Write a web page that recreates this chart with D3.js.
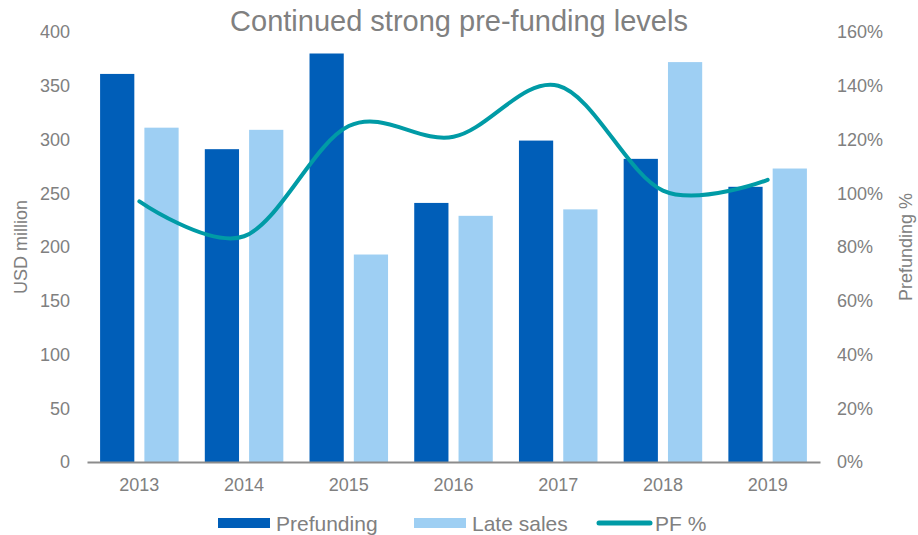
<!DOCTYPE html>
<html>
<head>
<meta charset="utf-8">
<script src="https://cdn.jsdelivr.net/npm/d3@7/dist/d3.min.js"></script>
<style>
  html, body { margin: 0; padding: 0; background: #fff; }
  svg { display: block; font-family: "Liberation Sans", Arial, sans-serif; }
</style>
</head>
<body>
<svg id="chart" width="918" height="535"></svg>
<script>
// Yearly volumes (USD million) and pre-funding ratio
const years = ["2013", "2014", "2015", "2016", "2017", "2018", "2019"];
const prefunding = [361, 291, 380, 241, 299, 282, 256];
const lateSales = [311, 309, 193, 229, 235, 372, 273];
const pfPercent = [97, 84, 125, 121, 140, 101, 105];
const leftTicks = [0, 50, 100, 150, 200, 250, 300, 350, 400];
const rightTicks = [0, 20, 40, 60, 80, 100, 120, 140, 160];

const colors = { prefunding: "#005EB8", late: "#9ECFF3", pf: "#009BA6", text: "#808080", axis: "#8C8C8C" };

const svg = d3.select("#chart");
const plot = { left: 87, right: 820, top: 32, bottom: 462 };

const x0 = d3.scaleBand().domain(years).range([plot.left, plot.right]);
const bw = x0.bandwidth();
const x1 = d3.scaleBand().domain(["prefunding", "late"]).range([bw * 0.125, bw * 0.875]).paddingInner(10 / 44);
const yL = d3.scaleLinear().domain([0, 400]).range([plot.bottom, plot.top]);
const yR = d3.scaleLinear().domain([0, 160]).range([plot.bottom, plot.top]);

const rows = years.map((y, i) => ({ year: y, prefunding: prefunding[i], late: lateSales[i], pf: pfPercent[i] }));

// Bars
const groups = svg.append("g").selectAll("g").data(rows).join("g")
  .attr("transform", d => `translate(${x0(d.year)},0)`);
groups.selectAll("rect")
  .data(d => [{ key: "prefunding", v: d.prefunding }, { key: "late", v: d.late }])
  .join("rect")
  .attr("x", d => x1(d.key))
  .attr("width", x1.bandwidth())
  .attr("y", d => yL(d.v))
  .attr("height", d => yL(0) - yL(d.v))
  .attr("fill", d => d.key === "prefunding" ? colors.prefunding : colors.late);

// Left axis
const leftAxis = svg.append("g").attr("transform", `translate(70,0)`)
  .call(d3.axisLeft(yL).tickValues(leftTicks).tickSize(0).tickPadding(0));
leftAxis.select(".domain").remove();
leftAxis.selectAll("text").attr("fill", colors.text).attr("font-size", 18).attr("font-family", "Liberation Sans, Arial, sans-serif");

// Right axis
const rightAxis = svg.append("g").attr("transform", `translate(837,0)`)
  .call(d3.axisRight(yR).tickValues(rightTicks).tickSize(0).tickPadding(0).tickFormat(d => d + "%"));
rightAxis.select(".domain").remove();
rightAxis.selectAll("text").attr("fill", colors.text).attr("font-size", 18).attr("font-family", "Liberation Sans, Arial, sans-serif");

// Bottom axis
const bottomAxis = svg.append("g").attr("transform", `translate(0,${plot.bottom})`)
  .call(d3.axisBottom(x0).tickSize(0).tickPadding(16));
bottomAxis.select(".domain").attr("stroke", colors.axis).attr("stroke-width", 2);
bottomAxis.selectAll("text").attr("fill", colors.text).attr("font-size", 18).attr("font-family", "Liberation Sans, Arial, sans-serif");

// PF % line
const line = d3.line()
  .x(d => x0(d.year) + bw / 2)
  .y(d => yR(d.pf))
  .curve(d3.curveCatmullRom.alpha(0));
svg.append("path").datum(rows)
  .attr("d", line)
  .attr("fill", "none")
  .attr("stroke", colors.pf)
  .attr("stroke-width", 4)
  .attr("stroke-linecap", "round");

// Title
svg.append("text").attr("x", 459).attr("y", 31)
  .attr("text-anchor", "middle").attr("font-size", 29).attr("fill", colors.text)
  .text("Continued strong pre-funding levels");

// Axis titles
svg.append("text").attr("transform", `translate(27,${(plot.top + plot.bottom) / 2}) rotate(-90)`)
  .attr("text-anchor", "middle").attr("font-size", 18).attr("fill", colors.text)
  .text("USD million");
svg.append("text").attr("transform", `translate(912,${(plot.top + plot.bottom) / 2}) rotate(-90)`)
  .attr("text-anchor", "middle").attr("font-size", 18).attr("fill", colors.text)
  .text("Prefunding %");

// Legend
const legend = svg.append("g");
const legendItems = [
  { label: "Prefunding", type: "rect", color: colors.prefunding, x: 218 },
  { label: "Late sales", type: "rect", color: colors.late, x: 414 },
  { label: "PF %", type: "line", color: colors.pf, x: 597 }
];
legendItems.forEach(it => {
  if (it.type === "rect") {
    legend.append("rect").attr("x", it.x).attr("y", 518).attr("width", 52).attr("height", 10).attr("fill", it.color);
  } else {
    legend.append("line").attr("x1", it.x + 2).attr("x2", it.x + 53).attr("y1", 523).attr("y2", 523)
      .attr("stroke", it.color).attr("stroke-width", 5).attr("stroke-linecap", "round");
  }
  legend.append("text").attr("x", it.x + 58).attr("y", 530.5)
    .attr("font-size", 21).attr("fill", colors.text).text(it.label);
});
</script>
</body>
</html>
